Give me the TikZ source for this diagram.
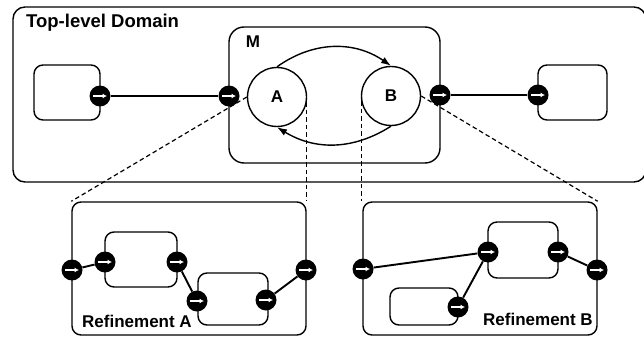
\documentclass[tikz,border=0pt]{standalone}
\usepackage{fontspec}
\setmainfont{Liberation Sans}
\usepackage{tikz}
\usetikzlibrary{arrows.meta, positioning, calc}
\tikzset{
    domainbox/.style={rectangle, rounded corners=12pt, draw=black, line width=1.4pt, inner sep=0pt},
    block/.style={rectangle, rounded corners=9pt, draw=black, line width=1.4pt, inner sep=0pt},
    statenode/.style={circle, draw=black, line width=1.4pt, minimum size=59pt, inner sep=0pt,
                  font=\fontsize{17}{20}\selectfont\bfseries},
    port/.style={circle, fill=black, minimum size=21pt, inner sep=0pt,
                 path picture={\draw[white, line width=1.5pt, -{Latex[length=4.5pt,width=5pt]}]
                 ([xshift=-7pt]path picture bounding box.center) --
                 ([xshift=7pt]path picture bounding box.center);}},
    boxtitle/.style={font=\fontsize{17}{20}\selectfont\bfseries, inner sep=0pt},
    portlink/.style={line width=1.9pt},
    trans/.style={line width=1.4pt, -{Latex[length=10pt,width=7pt]}},
    refine/.style={line width=1.2pt, dash pattern=on 4.5pt off 3pt}
}
\begin{document}
\begin{tikzpicture}[x=1pt, y=1pt]
    \clip (0,0) rectangle (644,338);
    % Top-level Domain
    \node[domainbox, minimum width=633pt, minimum height=175pt] (top) at (329.5,243.5) {};
    \node[boxtitle, anchor=west, font=\fontsize{18.5}{21}\selectfont\bfseries] (toptitle) at (26,315) {Top-level Domain};
    \node[block, minimum width=66pt, minimum height=55pt] (lbox) at (67,245.5) {};
    \node[block, minimum width=69pt, minimum height=55pt] (rbox) at (572.5,245.5) {};

    % Composite M with states A and B
    \node[domainbox, rounded corners=15pt, minimum width=211pt, minimum height=136pt] (M) at (334.5,243) {};
    \node[boxtitle] (mtitle) at (253,296) {M};
    \node[statenode] (A) at (277,241) {A};
    \node[statenode] (B) at (391,242) {B};
    \draw[trans] (A.north) to[bend left=35] (B.north);
    \draw[trans] (B.south) to[bend left=32] (A.south);

    % Refinement A
    \node[block, minimum width=234pt, minimum height=133pt] (refA) at (189,69.5) {};
    \node[boxtitle] (refAtitle) at (137,17) {Refinement A};
    \node[block, minimum width=72pt, minimum height=55pt] (a1) at (141,78.5) {};
    \node[block, minimum width=70pt, minimum height=52pt] (a2) at (233,39) {};

    % Refinement B
    \node[block, minimum width=234pt, minimum height=133pt] (refB) at (480,69.5) {};
    \node[boxtitle] (refBtitle) at (538,19) {Refinement B};
    \node[block, minimum width=70pt, minimum height=56pt] (b1) at (523,88) {};
    \node[block, minimum width=68pt, minimum height=37pt] (b2) at (424,31.5) {};

    % Refinement links
    \draw[refine] (A.west) -- (refA.north west);
    \draw[refine] (A.-10) -- (A.-10 |- refA.north);
    \draw[refine] (B.190) -- (B.190 |- refB.north);
    \draw[refine] (B.east) -- (refB.north east);

    % Ports
    \node[port] (pL) at (100,242) {};
    \node[port] (pML) at (229,242) {};
    \node[port] (pMR) at (440,243) {};
    \node[port] (pR) at (538,243) {};
    \node[port] (raL) at (72,68) {};
    \node[port] (a1L) at (105,76) {};
    \node[port] (a1R) at (177,76) {};
    \node[port] (a2L) at (197,37) {};
    \node[port] (a2R) at (266,38) {};
    \node[port] (raR) at (306,68) {};
    \node[port] (rbL) at (363,69) {};
    \node[port] (b1L) at (488,86) {};
    \node[port] (b1R) at (558,86) {};
    \node[port] (b2R) at (458,31) {};
    \node[port] (rbR) at (597,68) {};

    % Connections
    \draw[portlink] (pL) -- (pML);
    \draw[portlink] (pMR) -- (pR);
    \draw[portlink] (raL) -- (a1L);
    \draw[portlink] (a1R) -- (a2L);
    \draw[portlink] (a2R) -- (raR);
    \draw[portlink] (rbL) -- (b1L);
    \draw[portlink] (b2R) -- (b1L);
    \draw[portlink] (b1R) -- (rbR);
\end{tikzpicture}
\end{document}
